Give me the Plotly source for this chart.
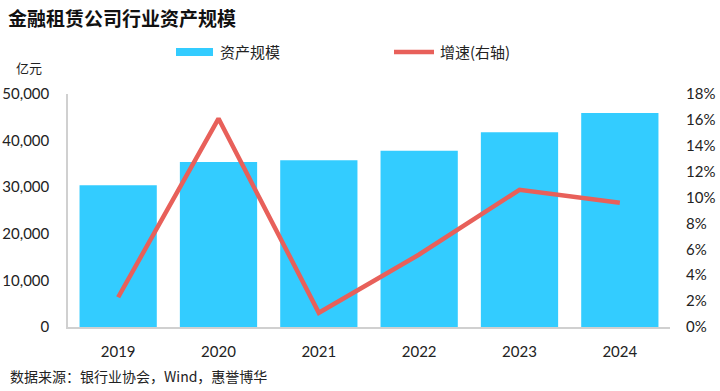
import plotly.graph_objects as go

years = ["2019", "2020", "2021", "2022", "2023", "2024"]
assets = [30400, 35400, 35800, 37800, 41800, 45900]
growth = [0.023, 0.161, 0.011, 0.056, 0.106, 0.096]

BAR_COLOR = "#33CCFF"
LINE_COLOR = "#E8605A"
FONT = "Lato, 'Noto Sans CJK SC', sans-serif"
CJK = "'Noto Sans CJK SC', sans-serif"

fig = go.Figure()
fig.add_trace(go.Bar(x=years, y=assets, name="资产规模", marker=dict(color=BAR_COLOR, line=dict(width=0)),
                     yaxis="y", showlegend=False))
fig.add_trace(go.Scatter(x=years, y=growth, name="增速(右轴)", mode="lines",
                         line=dict(color=LINE_COLOR, width=4.5), yaxis="y2", showlegend=False))

fig.update_layout(
    width=720, height=391,
    margin=dict(l=68, r=50, t=94, b=64, autoexpand=False),
    paper_bgcolor="white", plot_bgcolor="white",
    font=dict(family=FONT, size=15, color="#222222"),
    bargap=0.23,
    xaxis=dict(showline=True, linecolor="#d0d0d0", linewidth=1.5, ticks="", showgrid=False,
               tickfont=dict(size=15), ticklabelstandoff=10, automargin=False),
    yaxis=dict(range=[0, 50000], dtick=10000, tickformat=",", showgrid=False, zeroline=False,
               showline=True, linecolor="#d0d0d0", linewidth=1.5, ticks="",
               tickfont=dict(size=15), ticklabelstandoff=14, automargin=False),
    yaxis2=dict(range=[0, 0.18], dtick=0.02, tickformat=".0%", overlaying="y", side="right",
                showgrid=False, zeroline=False, showline=False, ticks="",
                tickfont=dict(size=15), ticklabelstandoff=15, automargin=False),
)

# Title, unit, source
fig.add_annotation(text="<b>金融租赁公司行业资产规模</b>", xref="paper", yref="paper", x=-62/602, y=1+(94-17)/233,
                   xanchor="left", yanchor="middle", showarrow=False, font=dict(family=CJK, size=19, color="#111111"))
fig.add_annotation(text="亿元", xref="paper", yref="paper", x=-54/602, y=1+(94-67)/233,
                   xanchor="left", yanchor="middle", showarrow=False, font=dict(family=CJK, size=13, color="#222222"))
fig.add_annotation(text="数据来源：银行业协会，Wind，惠誉博华", xref="paper", yref="paper", x=-60/602, y=-(376-327)/233,
                   xanchor="left", yanchor="middle", showarrow=False, font=dict(family=CJK, size=14, color="#222222"))

# Custom legend
fig.add_shape(type="rect", xref="paper", yref="paper",
              x0=(176-68)/602, x1=(213-68)/602, y0=1+(94-56)/233, y1=1+(94-48)/233,
              fillcolor=BAR_COLOR, line=dict(width=0))
fig.add_annotation(text="资产规模", xref="paper", yref="paper", x=(218-68)/602, y=1+(94-52)/233,
                   xanchor="left", yanchor="middle", showarrow=False, font=dict(family=CJK, size=15, color="#222222"))
fig.add_shape(type="line", xref="paper", yref="paper",
              x0=(394-68)/602, x1=(434-68)/602, y0=1+(94-52)/233, y1=1+(94-52)/233,
              line=dict(color=LINE_COLOR, width=4.5))
fig.add_annotation(text="增速(右轴)", xref="paper", yref="paper", x=(438-68)/602, y=1+(94-52)/233,
                   xanchor="left", yanchor="middle", showarrow=False, font=dict(family=CJK, size=15, color="#222222"))

fig.write_html("out.html", config={"displayModeBar": False},
               post_script="document.body.style.margin='0';document.body.style.overflow='hidden';")
